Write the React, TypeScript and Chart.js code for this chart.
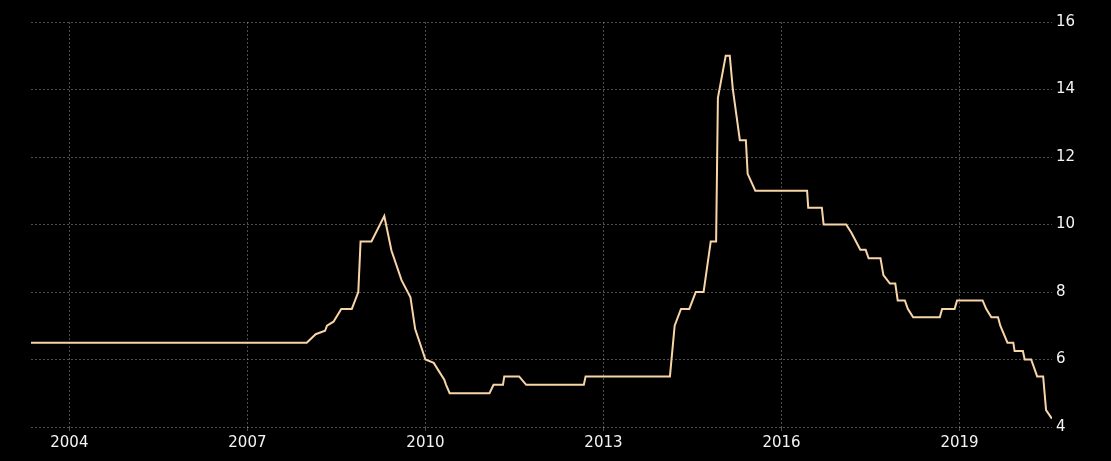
import React, { useEffect, useRef } from "react";
import { Chart, registerables } from "chart.js";

Chart.register(...registerables);

// Vertices of the rate line (date, percent)
const dates: string[] = [
  "2003-05-10", "2008-01-01", "2008-02-25", "2008-04-23", "2008-05-05", "2008-06-14",
  "2008-08-01", "2008-10-05", "2008-11-14", "2008-11-28", "2009-02-03", "2009-04-23",
  "2009-06-06", "2009-08-07", "2009-10-01", "2009-10-30", "2010-01-01", "2010-02-21",
  "2010-04-27", "2010-05-08", "2010-05-30", "2011-01-30", "2011-02-24", "2011-04-23",
  "2011-05-01", "2011-07-31", "2011-09-13", "2012-09-02", "2012-09-13", "2014-02-14",
  "2014-03-15", "2014-04-23", "2014-06-13", "2014-07-23", "2014-09-09", "2014-10-23",
  "2014-11-25", "2014-12-06", "2015-01-23", "2015-02-17", "2015-03-08", "2015-04-20",
  "2015-05-27", "2015-06-07", "2015-07-24", "2016-06-07", "2016-06-14", "2016-09-06",
  "2016-09-17", "2017-02-03", "2017-03-08", "2017-05-01", "2017-06-03", "2017-06-21",
  "2017-09-02", "2017-09-20", "2017-10-30", "2017-12-02", "2017-12-17", "2018-01-30",
  "2018-02-17", "2018-03-22", "2018-09-02", "2018-09-16", "2018-12-02", "2018-12-17",
  "2019-05-23", "2019-06-14", "2019-07-16", "2019-08-26", "2019-09-09", "2019-10-23",
  "2019-11-28", "2019-12-06", "2020-01-26", "2020-02-06", "2020-03-17", "2020-04-23",
  "2020-05-30", "2020-06-17", "2020-07-23",
];

const rates: number[] = [
  6.5, 6.5, 6.75, 6.85, 7.0, 7.12,
  7.5, 7.5, 8.0, 9.5, 9.5, 10.25,
  9.23, 8.35, 7.84, 6.9, 6.0, 5.9,
  5.4, 5.25, 5.0, 5.0, 5.25, 5.25,
  5.5, 5.5, 5.25, 5.25, 5.5, 5.5,
  7.0, 7.5, 7.5, 8.0, 8.0, 9.5,
  9.5, 13.75, 15.0, 15.0, 14.0, 12.5,
  12.5, 11.5, 11.0, 11.0, 10.5, 10.5,
  10.0, 10.0, 9.75, 9.25, 9.25, 9.0,
  9.0, 8.5, 8.25, 8.25, 7.75, 7.75,
  7.5, 7.25, 7.25, 7.5, 7.5, 7.75,
  7.75, 7.5, 7.25, 7.25, 7.0, 6.5,
  6.5, 6.25, 6.25, 6.0, 6.0, 5.5,
  5.5, 4.5, 4.25,
];

const yearTicks: number[] = [2004, 2007, 2010, 2013, 2016, 2019];
const yTicks: number[] = [4, 6, 8, 10, 12, 14, 16];

function toYear(d: string): number {
  const [y, m, day] = d.split("-").map(Number);
  const start = Date.UTC(y, 0, 1);
  const end = Date.UTC(y + 1, 0, 1);
  const t = Date.UTC(y, m - 1, day);
  return y + (t - start) / (end - start);
}

const FONT = { family: "'DejaVu Sans', sans-serif", size: 15 };
const GRID = "rgba(255,255,255,0.3)";

export default function App() {
  const ref = useRef<HTMLCanvasElement | null>(null);

  useEffect(() => {
    if (!ref.current) return;
    const pts = dates.map((d, i) => ({ x: toYear(d), y: rates[i] }));
    const chart = new Chart(ref.current, {
      type: "line",
      data: {
        datasets: [
          {
            data: pts,
            borderColor: "#f8d5a6",
            borderWidth: 2,
            pointRadius: 0,
            tension: 0,
            fill: false,
          },
        ],
      },
      options: {
        animation: false,
        responsive: false,
        parsing: false,
        normalized: true,
        layout: { padding: { left: 31, right: 32, top: 22, bottom: 6 } },
        plugins: { legend: { display: false }, tooltip: { enabled: false } },
        scales: {
          x: {
            type: "linear",
            min: pts[0].x,
            max: pts[pts.length - 1].x,
            afterBuildTicks: (axis: any) => {
              axis.ticks = yearTicks.map((v) => ({ value: v }));
            },
            ticks: {
              color: "#f4f4f4",
              font: FONT,
              padding: 3,
              maxRotation: 0,
              autoSkip: false,
              callback: (v: any) => String(v),
            },
            grid: {
              color: GRID,
              lineWidth: 1,
              drawTicks: true,
              tickLength: 4,
            },
            border: { display: false, dash: [2, 2] },
          },
          y: {
            position: "right",
            min: 4,
            max: 16,
            afterBuildTicks: (axis: any) => {
              axis.ticks = yTicks.map((v) => ({ value: v }));
            },
            ticks: {
              color: "#f4f4f4",
              font: FONT,
              padding: 4,
              callback: (v: any) => String(v),
            },
            grid: {
              color: GRID,
              lineWidth: 1,
              drawTicks: false,
            },
            border: { display: false, dash: [2, 2] },
          },
        },
      },
    });
    return () => chart.destroy();
  }, []);

  return (
    <div
      style={{
        position: "fixed",
        left: 0,
        top: 0,
        width: 1111,
        height: 461,
        background: "#000000",
      }}
    >
      <canvas ref={ref} width={1111} height={461} style={{ display: "block" }} />
    </div>
  );
}
